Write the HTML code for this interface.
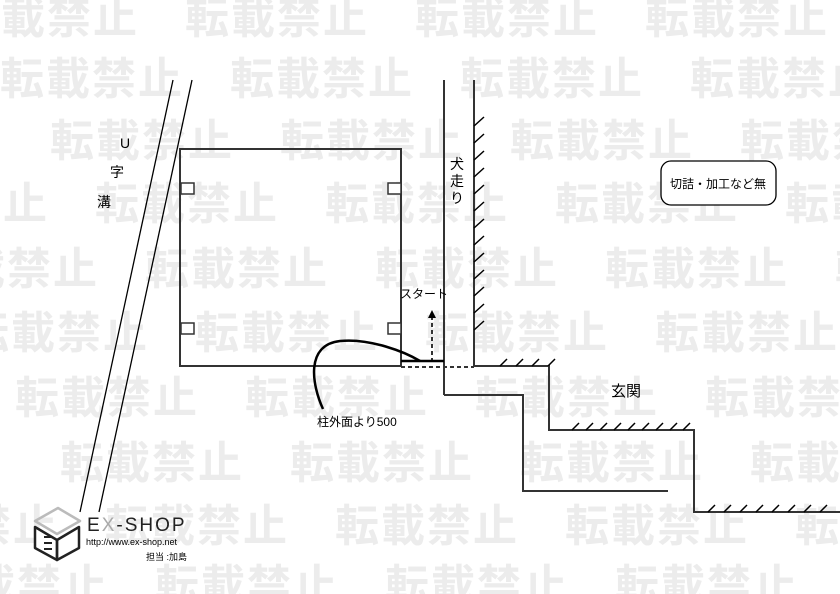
<!DOCTYPE html>
<html><head><meta charset="utf-8"><style>
html,body{margin:0;padding:0;background:#fff;overflow:hidden}
body{width:840px;height:594px;position:relative;font-family:"Liberation Sans","Noto Sans CJK JP",sans-serif}
#wmc{position:absolute;left:0;top:0;width:840px;height:594px;overflow:hidden}
.wm{position:absolute;left:0;white-space:nowrap;font-size:44px;font-weight:bold;color:#ececec;letter-spacing:2px;line-height:44px;font-family:"Noto Sans CJK JP",sans-serif}
svg{position:absolute;left:0;top:0}
</style></head><body>
<div id="wmc">
<div class="wm" style="top:-8px;left:-45px">転載禁止　転載禁止　転載禁止　転載禁止</div>
<div class="wm" style="top:53px;left:0px">転載禁止　転載禁止　転載禁止　転載禁止</div>
<div class="wm" style="top:115px;left:50px">転載禁止　転載禁止　転載禁止　転載禁止</div>
<div class="wm" style="top:178px;left:-135px">転載禁止　転載禁止　転載禁止　転載禁止　転載禁止</div>
<div class="wm" style="top:243px;left:-85px">転載禁止　転載禁止　転載禁止　転載禁止　転載禁止</div>
<div class="wm" style="top:307px;left:-35px">転載禁止　転載禁止　転載禁止　転載禁止</div>
<div class="wm" style="top:372px;left:15px">転載禁止　転載禁止　転載禁止　転載禁止</div>
<div class="wm" style="top:437px;left:60px">転載禁止　転載禁止　転載禁止　転載禁止</div>
<div class="wm" style="top:500px;left:-125px">転載禁止　転載禁止　転載禁止　転載禁止　転載禁止</div>
<div class="wm" style="top:560px;left:-75px">転載禁止　転載禁止　転載禁止　転載禁止　転載禁止</div>
</div>
<svg width="840" height="594" viewBox="0 0 840 594" font-family="Liberation Sans, Noto Sans CJK JP, sans-serif">
<g stroke="#000" stroke-width="1.3" fill="none">
<line x1="173" y1="80" x2="80" y2="512"/>
<line x1="192" y1="80" x2="99" y2="512"/>
</g>
<g stroke="#333" stroke-width="2" fill="none">
<rect x="180" y="149" width="221" height="217"/>
<rect x="181" y="183" width="13" height="11" fill="#fff" stroke-width="1.5"/>
<rect x="181" y="323" width="13" height="11" fill="#fff" stroke-width="1.5"/>
<rect x="388" y="183" width="13" height="11" fill="#fff" stroke-width="1.5"/>
<rect x="388" y="323" width="13" height="11" fill="#fff" stroke-width="1.5"/>
<line x1="444" y1="80" x2="444" y2="395"/>
<line x1="474" y1="80" x2="474" y2="366"/>
<polyline points="474,366 549,366 549,430 694,430 694,512 840,512"/>
<polyline points="444,395 523,395 523,491 668,491"/>
</g>
<g stroke="#000" stroke-width="1.5">
<line x1="474" y1="126" x2="484" y2="117"/><line x1="474" y1="143" x2="484" y2="134"/><line x1="474" y1="160" x2="484" y2="151"/><line x1="474" y1="177" x2="484" y2="168"/><line x1="474" y1="194" x2="484" y2="185"/><line x1="474" y1="211" x2="484" y2="202"/><line x1="474" y1="228" x2="484" y2="219"/><line x1="474" y1="245" x2="484" y2="236"/><line x1="474" y1="262" x2="484" y2="253"/><line x1="474" y1="279" x2="484" y2="270"/><line x1="474" y1="296" x2="484" y2="287"/><line x1="474" y1="313" x2="484" y2="304"/><line x1="474" y1="330" x2="484" y2="321"/>
<line x1="500" y1="366" x2="507" y2="359"/><line x1="516" y1="366" x2="523" y2="359"/><line x1="532" y1="366" x2="539" y2="359"/><line x1="548" y1="366" x2="555" y2="359"/>
<line x1="572" y1="430" x2="579" y2="423"/><line x1="586" y1="430" x2="593" y2="423"/><line x1="600" y1="430" x2="607" y2="423"/><line x1="614" y1="430" x2="621" y2="423"/><line x1="628" y1="430" x2="635" y2="423"/><line x1="642" y1="430" x2="649" y2="423"/><line x1="656" y1="430" x2="663" y2="423"/><line x1="670" y1="430" x2="677" y2="423"/><line x1="683" y1="430" x2="690" y2="423"/>
<line x1="708" y1="512" x2="715" y2="505"/><line x1="724" y1="512" x2="731" y2="505"/><line x1="740" y1="512" x2="747" y2="505"/><line x1="756" y1="512" x2="763" y2="505"/><line x1="772" y1="512" x2="779" y2="505"/><line x1="788" y1="512" x2="795" y2="505"/><line x1="804" y1="512" x2="811" y2="505"/><line x1="820" y1="512" x2="827" y2="505"/>
</g>
<line x1="401" y1="367" x2="474" y2="367" stroke="#333" stroke-width="2" stroke-dasharray="4,3"/>
<line x1="432" y1="362" x2="432" y2="318" stroke="#333" stroke-width="2" stroke-dasharray="4,3"/>
<polygon points="428,318 436,318 432,310" fill="#000"/>
<line x1="401" y1="361" x2="444" y2="361" stroke="#000" stroke-width="2.5"/>
<path d="M323,409 C312,385 305,345 340,341 C370,338 405,352 420,361" stroke="#000" stroke-width="2.5" fill="none"/>
<rect x="661" y="161" width="115" height="44" rx="10" fill="#fff" stroke="#000" stroke-width="1.3"/>
<g font-size="14" fill="#000">
<text x="120" y="148">U</text>
<text x="110" y="177">字</text>
<text x="97" y="207">溝</text>
<text x="450" y="169">犬</text>
<text x="450" y="186">走</text>
<text x="450" y="203">り</text>
<text x="400" y="298" font-size="12">スタート</text>
<text x="611" y="396" font-size="15">玄関</text>
<text x="317" y="426" font-size="12">柱外面より500</text>
<text x="670" y="188" font-size="12">切詰・加工など無</text>
</g>
<g stroke="#222" stroke-width="2.5" fill="none" stroke-linejoin="round">
<polygon points="35,521 58,508 80,521 57,534" stroke="#bbb"/>
<polygon points="35,527 57,540 57,560 35,548" fill="#fff"/>
<polygon points="57,540 79,527 79,548 57,560"/>
<path d="M44,537 h8 M44,543 h8 M44,549 h8" stroke-width="2"/>
</g>
<text x="87" y="531" font-size="19" fill="#222" letter-spacing="2">E<tspan fill="#aaa">X</tspan>-SHOP</text>
<text x="86" y="545" font-size="9" fill="#000">http://www.ex-shop.net</text>
<text x="146" y="560" font-size="9" fill="#000">担当 :加島</text>
</svg>
</body></html>
